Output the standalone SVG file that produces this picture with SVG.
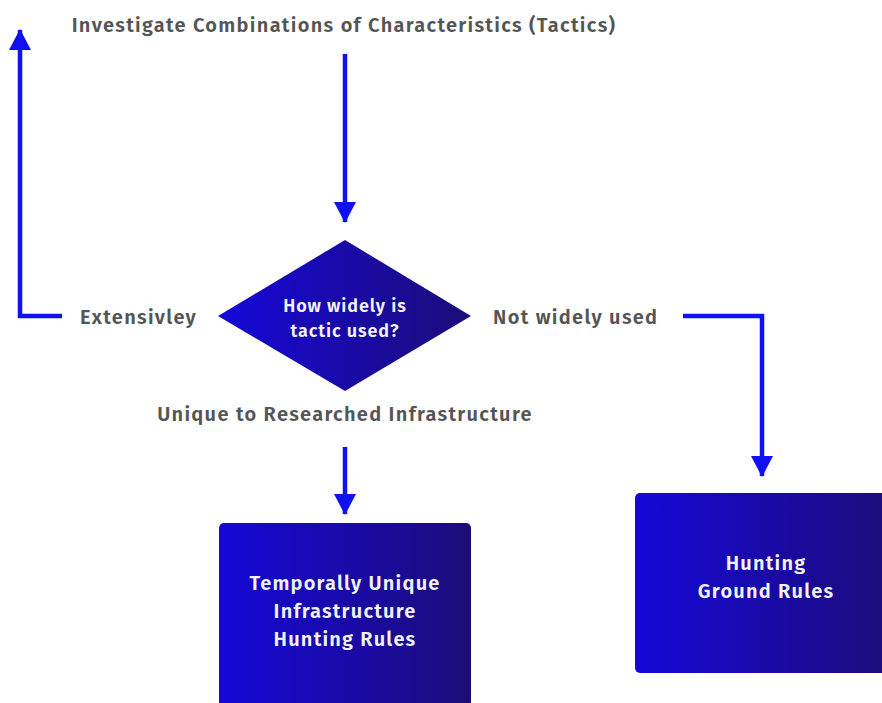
<svg xmlns="http://www.w3.org/2000/svg" width="882" height="703" viewBox="0 0 882 703">
<defs>
<style>
.lbl{font-family:"Fira Sans","Open Sans","Noto Sans",sans-serif;font-weight:600;fill:#555;font-size:20px;letter-spacing:1.3px}
.wt{font-family:"Fira Sans","Open Sans","Noto Sans",sans-serif;font-weight:600;fill:#f2f2f8;font-size:20px;letter-spacing:1.2px;text-anchor:middle}
.dt{font-size:18px;letter-spacing:0.9px}
.conn{fill:none;stroke:#1010f5;stroke-width:4.5}
</style>
<linearGradient id="g" x1="0" y1="0" x2="1" y2="0">
<stop offset="0" stop-color="#1508d8"/>
<stop offset="1" stop-color="#1c0c78"/>
</linearGradient>
<marker id="ah" markerUnits="userSpaceOnUse" markerWidth="22" markerHeight="22" viewBox="0 0 22 22" refX="20" refY="11" orient="auto">
<path d="M0,0 L21,11 L0,22 Z" fill="#1010f5"/>
</marker>
</defs>
<rect width="882" height="703" fill="#fff"/>
<g id="connectors">
<path class="conn" d="M345,54 V222" marker-end="url(#ah)"/>
<path class="conn" d="M62,316 H20 V30" marker-end="url(#ah)"/>
<path class="conn" d="M683,316 H762 V476" marker-end="url(#ah)"/>
<path class="conn" d="M345,447 V514" marker-end="url(#ah)"/>
</g>
<g id="title">
<text class="lbl" x="344" y="32" text-anchor="middle">Investigate Combinations of Characteristics (Tactics)</text>
</g>
<g id="decision">
<polygon points="218,316 345,240 471,316 345,391" fill="url(#g)"/>
<text class="wt dt" x="345" y="312">How widely is</text>
<text class="wt dt" x="345" y="337">tactic used?</text>
</g>
<g id="label-extensively">
<text class="lbl" x="80" y="324">Extensivley</text>
</g>
<g id="label-not-widely">
<text class="lbl" x="493" y="324">Not widely used</text>
</g>
<g id="label-unique">
<text class="lbl" x="345" y="421" text-anchor="middle">Unique to Researched Infrastructure</text>
</g>
<g id="box-temporal">
<rect x="219" y="523" width="252" height="190" rx="5" fill="url(#g)"/>
<text class="wt" x="345" y="590">Temporally Unique</text>
<text class="wt" x="345" y="618">Infrastructure</text>
<text class="wt" x="345" y="646">Hunting Rules</text>
</g>
<g id="box-ground">
<rect x="635" y="493" width="260" height="180" rx="5" fill="url(#g)"/>
<text class="wt" x="766" y="570">Hunting</text>
<text class="wt" x="766" y="598">Ground Rules</text>
</g>
</svg>
